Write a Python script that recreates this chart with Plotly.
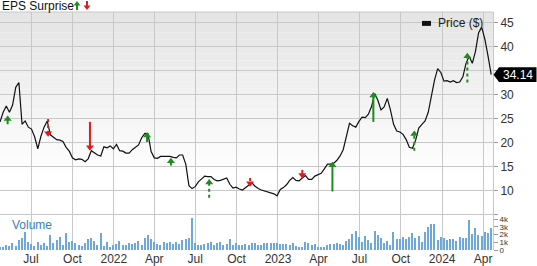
import pandas as pd
import plotly.graph_objects as go

# ---------------- data ----------------
week_start = "2021-04-23"
price = [24.3, 26.3, 27.6, 26.3, 27.8, 31.5, 32.5, 23.8, 24.5, 23.2,
         22.8, 21.2, 18.7, 21.3, 23.2, 24.5, 21.6, 21.0, 20.6, 20.5,
         20.2, 19.0, 18.2, 16.8, 16.4, 16.6, 16.5, 16.0, 16.6, 18.3,
         17.9, 17.4, 17.2, 19.1, 18.9, 19.3, 18.7, 19.6, 18.3, 18.2,
         17.8, 17.8, 18.5, 19.1, 19.5, 21.0, 21.9, 21.8, 18.1, 16.8,
         16.7, 17.1, 17.1, 17.1, 17.1, 16.9, 16.8, 17.4, 17.4, 15.5,
         11.0, 10.4, 10.8, 11.8, 12.4, 13.0, 12.9, 12.9, 12.3, 12.0,
         12.1, 12.4, 12.6, 11.3, 10.5, 10.7, 10.3, 10.1, 10.6, 11.1,
         11.6, 10.9, 10.4, 10.1, 9.9, 9.7, 9.6, 9.3, 8.9, 10.2,
         10.6, 11.2, 12.1, 12.7, 12.1, 12.0, 12.6, 13.1, 12.3, 12.3,
         13.0, 13.3, 13.6, 14.5, 15.5, 15.5, 15.7, 16.3, 17.2, 18.5,
         21.2, 24.0, 23.5, 23.2, 24.4, 25.3, 25.2, 25.9, 27.5, 30.2,
         28.8, 26.8, 27.4, 29.2, 26.8, 23.8, 22.4, 22.2, 21.7, 20.6,
         19.0, 18.8, 20.5, 23.0, 23.8, 24.5, 26.3, 29.5, 33.0, 35.4,
         34.6, 32.8, 32.9, 32.6, 32.9, 32.5, 32.6, 33.7, 36.5, 38.0,
         36.5, 39.0, 42.9, 44.0, 41.5, 38.0, 34.14]

volume_k = [0.45, 0.45, 0.6, 0.5, 0.9, 0.5, 1.3, 1.5, 2.3, 1.1,
            0.8, 0.5, 1.0, 0.6, 0.9, 0.5, 2.0, 0.9, 1.3, 1.7,
            0.6, 2.2, 1.1, 1.2, 0.9, 0.6, 0.5, 0.9, 1.4, 1.6,
            1.2, 0.6, 2.2, 0.5, 1.0, 0.4, 0.6, 0.8, 1.2, 0.7,
            0.6, 0.9, 0.8, 0.9, 1.2, 0.7, 1.5, 2.0, 1.4, 1.0,
            0.8, 0.7, 1.1, 0.9, 1.0, 0.8, 1.0, 0.8, 1.3, 1.4,
            1.5, 4.2, 0.9, 0.6, 0.6, 0.8, 0.9, 1.0, 0.7, 0.9,
            1.1, 0.6, 0.8, 1.4, 0.6, 0.9, 0.7, 0.7, 0.8, 0.7,
            0.86, 0.86, 0.65, 0.65, 0.95, 0.95, 0.95, 0.86, 0.95, 0.8,
            0.8, 0.8, 0.65, 0.95, 0.5, 0.43, 0.43, 1.07, 0.95, 0.65,
            0.8, 0.43, 0.43, 0.35, 0.65, 0.8, 0.8, 0.86, 0.8, 0.65,
            1.2, 1.38, 2.06, 2.5, 1.72, 1.07, 1.8, 1.3, 0.86, 2.5,
            1.94, 1.5, 0.95, 1.2, 0.65, 2.37, 1.38, 1.38, 1.63, 1.38,
            1.72, 2.24, 1.5, 1.8, 1.07, 2.37, 3.0, 3.35, 3.44, 1.3,
            1.72, 1.5, 1.3, 1.38, 1.38, 1.2, 1.63, 1.5, 1.5, 3.9,
            2.1, 2.8, 2.0, 1.8, 2.3, 2.2, 2.8]

eps_dates = ["2021-05-10", "2021-08-08", "2021-11-09", "2022-03-16", "2022-05-08",
             "2022-08-01", "2022-10-31", "2023-02-24", "2023-05-02", "2023-08-01",
             "2023-10-31", "2024-02-26"]
eps_dir = ["up", "down", "down", "up", "up", "up", "down", "down", "up", "up", "up", "up"]
eps_tip = [25.6, 21.2, 18.3, 22.2, 16.8, 12.4, 10.8, 12.5, 16.0, 30.5, 22.5, 38.7]
eps_tail = [23.8, 24.9, 24.3, 20.1, 15.2, 8.5, 12.6, 14.3, 9.8, 24.3, 18.3, 32.5]
eps_kind = ["actual", "estimate", "actual", "actual", "actual", "estimate",
            "estimate", "actual", "actual", "actual", "estimate", "estimate"]

x_tickvals = ["2021-07-01", "2021-10-01", "2022-01-01", "2022-04-01", "2022-07-01",
              "2022-10-01", "2023-01-01", "2023-04-01", "2023-07-01", "2023-10-01",
              "2024-01-01", "2024-04-01"]
x_ticktext = ["Jul", "Oct", "2022", "Apr", "Jul", "Oct", "2023", "Apr", "Jul", "Oct", "2024", "Apr"]
price_ticks = [5, 10, 15, 20, 25, 30, 35, 40, 45]
vol_ticks = [0, 1000, 2000, 3000, 4000]
vol_ticktext = ["0", "1k", "2k", "3k", "4k"]

# ---------------- figure ----------------
W, H = 537, 266
ML, MR, MT, MB = 0, 44, 12, 14
PLOT_H = H - MT - MB
PLOT_W = W - ML - MR
Y_RANGE = [-2.4, 47.2]
px_per_unit = PLOT_H / (Y_RANGE[1] - Y_RANGE[0])


def pxx(x):
    return (x - ML) / PLOT_W


def pxy(y):
    return (MT + PLOT_H - y) / PLOT_H


dates = pd.date_range(week_start, periods=len(price), freq="7D")
volume = [v * 1000 for v in volume_k]
last = price[-1]

GREEN = "#1e8c1e"
RED = "#e41a1a"
FONT = "Liberation Sans, Arial, sans-serif"

fig = go.Figure()

fig.add_trace(go.Bar(x=dates, y=volume, yaxis="y2",
                     marker=dict(color="#6ea8d8", line=dict(width=0)),
                     width=3.0 * 86400000, hoverinfo="skip"))

fig.add_trace(go.Scatter(x=dates, y=price, mode="lines",
                         line=dict(color="#111111", width=1.2), hoverinfo="skip"))

msize = 7
r_units = (msize / 2) / px_per_unit
for d, dr, tip, tail, kind in zip(eps_dates, eps_dir, eps_tip, eps_tail, eps_kind):
    col = GREEN if dr == "up" else RED
    center = tip - r_units if dr == "up" else tip + r_units
    fig.add_trace(go.Scatter(x=[d, d], y=[tail, center], mode="lines",
                             line=dict(color=col, width=2,
                                       dash="dot" if kind == "estimate" else "solid"),
                             hoverinfo="skip"))
    fig.add_trace(go.Scatter(x=[d], y=[center], mode="markers",
                             marker=dict(symbol="triangle-up" if dr == "up" else "triangle-down",
                                         size=msize, color=col, line=dict(width=0)),
                             hoverinfo="skip"))

# background gradient
shapes = []
n_bands = 24
top, bottom = 1.0, 0.3
for i in range(n_bands):
    y1 = top - (top - bottom) * i / n_bands
    y0 = top - (top - bottom) * (i + 1) / n_bands
    c = int(229 + (255 - 229) * i / (n_bands - 1))
    shapes.append(dict(type="rect", xref="paper", yref="paper", x0=0, x1=1, y0=y0, y1=y1,
                       fillcolor=f"rgb({c},{c},{c})", line=dict(width=0), layer="below"))
# top border
shapes.append(dict(type="line", xref="paper", yref="paper", x0=0, x1=1, y0=1, y1=1,
                   line=dict(color="#c8c8c8", width=1)))
# title arrows (legend glyphs)
shapes.append(dict(type="line", xref="paper", yref="paper", x0=pxx(77), x1=pxx(77),
                   y0=pxy(10), y1=pxy(5), line=dict(color=GREEN, width=2)))
shapes.append(dict(type="path", xref="paper", yref="paper",
                   path=f"M {pxx(73.5)},{pxy(5.5)} L {pxx(80.5)},{pxy(5.5)} L {pxx(77)},{pxy(1)} Z",
                   fillcolor=GREEN, line=dict(width=0)))
shapes.append(dict(type="line", xref="paper", yref="paper", x0=pxx(87), x1=pxx(87),
                   y0=pxy(1), y1=pxy(6), line=dict(color=RED, width=2)))
shapes.append(dict(type="path", xref="paper", yref="paper",
                   path=f"M {pxx(83.5)},{pxy(5.5)} L {pxx(90.5)},{pxy(5.5)} L {pxx(87)},{pxy(10)} Z",
                   fillcolor=RED, line=dict(width=0)))
# legend swatch
shapes.append(dict(type="rect", xref="paper", yref="paper",
                   x0=pxx(422), x1=pxx(431), y0=pxy(26), y1=pxy(21),
                   fillcolor="#111111", line=dict(width=0)))
# last price tag
half = 7.5 / px_per_unit
x_tip = pxx(493.5)
x_box = pxx(499)
x_end = pxx(W - 0.5)
shapes.append(dict(type="path", xref="paper", yref="y",
                   path=f"M {x_tip},{last} L {x_box},{last + half} L {x_end},{last + half} "
                        f"L {x_end},{last - half} L {x_box},{last - half} Z",
                   fillcolor="#000000", line=dict(width=0)))

annotations = [
    dict(text="EPS Surprise", xref="paper", yref="paper", x=0, y=pxy(6),
         xanchor="left", yanchor="middle", showarrow=False,
         font=dict(family=FONT, size=12, color="#111111")),
    dict(text="Price ($)", xref="paper", yref="paper", x=pxx(436),
         y=pxy(23.5), xanchor="left", yanchor="middle", showarrow=False,
         font=dict(family=FONT, size=12, color="#222222")),
    dict(text="Volume", xref="paper", yref="paper", x=pxx(10), y=pxy(227),
         xanchor="left", yanchor="middle", showarrow=False,
         font=dict(family=FONT, size=12, color="#3a7fb5")),
    dict(text=f"{last:.2f}", xref="paper", yref="y", x=(x_box + x_end) / 2, y=last,
         xanchor="center", yanchor="middle", showarrow=False,
         font=dict(family=FONT, size=12, color="#ffffff")),
]

# the price tick hidden behind the last-price tag is left blank
hidden = [v for v in price_ticks if abs(v - last) * px_per_unit < 10]
price_ticktext = ["" if (v == 5 or v in hidden) else str(v) for v in price_ticks]

fig.update_layout(
    width=W, height=H, margin=dict(l=ML, r=MR, t=MT, b=MB),
    paper_bgcolor="white", plot_bgcolor="white",
    showlegend=False, bargap=0,
    font=dict(family=FONT, size=12, color="#333333"),
    shapes=shapes, annotations=annotations,
    xaxis=dict(type="date", range=["2021-04-23", "2024-04-23"],
               tickvals=x_tickvals, ticktext=x_ticktext,
               showgrid=True, gridcolor="#c8c8c8", gridwidth=1,
               zeroline=False, showline=False, ticks="",
               tickfont=dict(family=FONT, size=12, color="#333333")),
    yaxis=dict(side="right", range=Y_RANGE, tickvals=price_ticks,
               ticktext=price_ticktext,
               showgrid=True, gridcolor="#c8c8c8", gridwidth=1, zeroline=False,
               showline=True, linecolor="#c8c8c8", linewidth=1,
               ticks="outside", ticklen=4, tickcolor="#999999",
               tickfont=dict(family=FONT, size=12, color="#333333")),
    yaxis2=dict(side="right", overlaying="y", anchor="x", range=[0, PLOT_H / 7.75 * 1000],
                tickvals=vol_ticks, ticktext=vol_ticktext, showgrid=False, zeroline=False,
                ticks="outside", ticklen=4, tickcolor="#999999",
                tickfont=dict(family=FONT, size=8, color="#333333")),
)

fig.write_html("out.html")
